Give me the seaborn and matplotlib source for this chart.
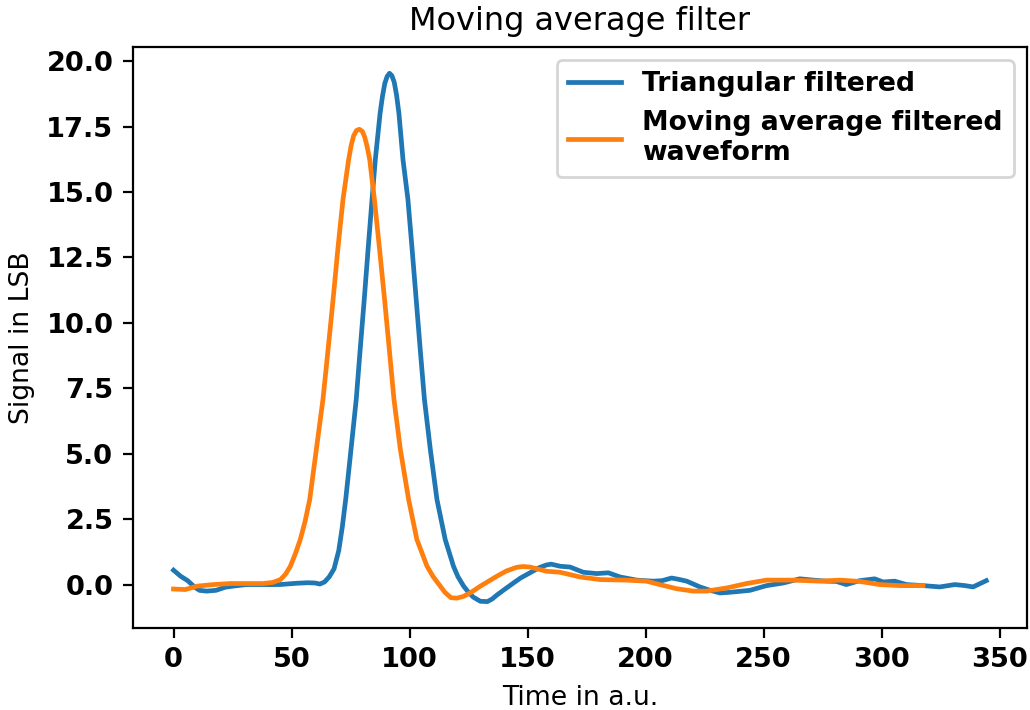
import matplotlib
matplotlib.use("Agg")
import matplotlib.pyplot as plt
import seaborn as sns
import pandas as pd

# Triangular filtered series (time, signal)
tri_time = [0, 3, 6, 9, 11, 14, 18, 22, 26, 31, 40, 45, 52, 57, 60, 62, 64, 66, 68, 70,
            71.5, 73, 75, 77.4, 79, 80.8, 82.5, 84.1, 85.5, 87.5, 88.5, 89.5, 90.5, 91.5,
            92.5, 93.5, 94.5, 95.5, 97.2, 99.3, 101, 102.8, 104.5, 106.3, 108.8, 111.6,
            115.1, 118.6, 120.5, 122.9, 125, 127, 130, 133, 135, 137, 140, 144, 147, 151,
            155, 158, 160, 163.8, 168, 173.6, 179.3, 184.2, 189.2, 196.2, 203.3, 207, 211,
            214, 217.4, 223, 227.3, 231.5, 235, 238.5, 244.2, 251.2, 258.3, 265.3, 271,
            276.6, 280.8, 285, 290.7, 297, 300.6, 305.5, 310.5, 317.5, 324.6, 331, 335.3,
            338.7, 344.3]
tri_signal = [0.55, 0.32, 0.15, -0.1, -0.22, -0.25, -0.22, -0.1, -0.05, 0.0, 0.0, 0.0, 0.05,
              0.07, 0.06, 0.02, 0.1, 0.3, 0.6, 1.3, 2.2, 3.3, 5.0, 7.07, 8.9, 10.9, 12.9,
              14.72, 16.25, 18.0, 18.65, 19.15, 19.42, 19.54, 19.45, 19.2, 18.7, 18.0,
              16.25, 14.72, 12.9, 10.9, 9.0, 7.07, 5.16, 3.25, 1.72, 0.7, 0.3, -0.06, -0.3,
              -0.48, -0.64, -0.65, -0.55, -0.4, -0.2, 0.06, 0.25, 0.45, 0.65, 0.75, 0.78,
              0.70, 0.67, 0.47, 0.42, 0.45, 0.29, 0.17, 0.13, 0.15, 0.25, 0.2, 0.13, -0.09,
              -0.22, -0.32, -0.3, -0.27, -0.22, -0.04, 0.06, 0.22, 0.17, 0.13, 0.12, 0.0,
              0.15, 0.22, 0.1, 0.13, 0.0, -0.04, -0.09, 0.0, -0.04, -0.09, 0.15]

# Moving average filtered series (time, signal)
mov_time = [0, 5, 10, 17, 24, 38, 42, 45.3, 47.5, 49.5, 51.5, 53.7, 55.7, 57.7, 60.5, 63.3,
            65.5, 67.6, 69.7, 71.8, 74.2, 75.3, 76.3, 77.5, 78.7, 80, 81, 82, 83.1, 85.1,
            87.3, 89.4, 91.4, 93.4, 96.1, 99.6, 103.1, 107.4, 110, 113, 115, 117.5, 120,
            122.9, 126, 130, 137, 141, 145.4, 148, 151, 158, 163.8, 172.2, 180.7, 192,
            200.4, 206, 213.2, 220.2, 225.8, 234.3, 242.8, 251.2, 262.5, 273.8, 282.2,
            290.7, 299.2, 307.7, 317.5]
mov_signal = [-0.17, -0.19, -0.06, 0.0, 0.04, 0.04, 0.08, 0.19, 0.4, 0.7, 1.15, 1.72, 2.4,
              3.25, 5.16, 7.07, 9.0, 10.9, 12.9, 14.72, 16.25, 16.8, 17.15, 17.35, 17.4,
              17.32, 17.1, 16.75, 16.25, 14.72, 12.8, 10.9, 9.0, 7.07, 5.16, 3.25, 1.72,
              0.7, 0.3, -0.06, -0.3, -0.5, -0.52, -0.45, -0.3, -0.06, 0.32, 0.52, 0.66,
              0.69, 0.67, 0.51, 0.47, 0.29, 0.19, 0.17, 0.13, 0.0, -0.16, -0.25, -0.25,
              -0.13, 0.04, 0.17, 0.17, 0.13, 0.17, 0.12, 0.0, -0.04, -0.04]

labels = ["Triangular filtered", "Moving average filtered\nwaveform"]

fig = plt.figure(figsize=(5.15, 3.55), dpi=200)
ax = fig.add_axes([0.129, 0.1155, 0.868, 0.8185])

df_tri = pd.DataFrame({"t": tri_time, "s": tri_signal})
df_mov = pd.DataFrame({"t": mov_time, "s": mov_signal})
sns.lineplot(data=df_tri, x="t", y="s", ax=ax, color="#1f77b4", linewidth=1.7,
             label=labels[0], sort=True)
sns.lineplot(data=df_mov, x="t", y="s", ax=ax, color="#ff7f0e", linewidth=1.7,
             label=labels[1], sort=True)

ax.set_title("Moving average filter", fontsize=11.5)
ax.set_xlabel("Time in a.u.", fontsize=9.6)
ax.set_ylabel("Signal in LSB", fontsize=9.6)
ax.set_xticks([0, 50, 100, 150, 200, 250, 300, 350])
ax.set_yticks([0.0, 2.5, 5.0, 7.5, 10.0, 12.5, 15.0, 17.5, 20.0])
ax.tick_params(labelsize=9.8)
for lab in ax.get_xticklabels() + ax.get_yticklabels():
    lab.set_fontweight("bold")
ax.legend(loc="upper right", prop={"weight": "bold", "size": 9.6})

fig.savefig("out.png", dpi=200)
